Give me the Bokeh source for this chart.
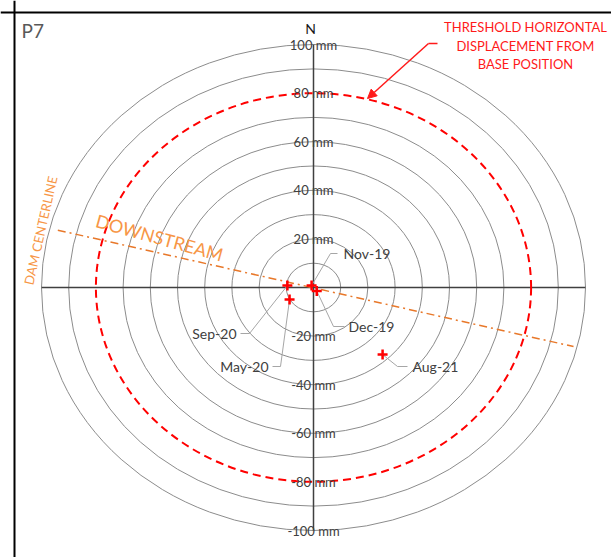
from bokeh.plotting import figure
from bokeh.models import Range1d, Span, Arrow, NormalHead
from bokeh.core.properties import value
from bokeh.embed import file_html
from bokeh.resources import INLINE

# ---------------- data ----------------
ring_radii = [10, 20, 30, 40, 50, 60, 70, 90, 100]   # mm, grey rings
threshold_radius = 80                                  # mm, red dashed ring
ring_label_values = [100, 80, 60, 40, 20, -20, -40, -60, -80, -100]

dates = ["Nov-19", "Dec-19", "Sep-20", "May-20", "Aug-21"]
east_mm = [-0.7, 1.2, -9.6, -8.8, 25.4]
north_mm = [0.8, -1.4, 0.8, -4.9, -27.6]

centerline_x = [-94.0, 95.6]
centerline_y = [23.6, -24.3]

# ---------------- layout ----------------
W, H = 611, 557
SX, SY = 2.72, 2.43          # px per mm
CX, CY = 313, 287            # canvas px of origin

def dx(px):   # screen px -> data x
    return (px - CX) / SX

def dy(py):   # screen py -> data y
    return (CY - py) / SY

p = figure(width=W, height=H, output_backend="svg", toolbar_location=None,
           x_range=Range1d(-CX / SX, (W - CX) / SX),
           y_range=Range1d(-(H - CY) / SY, CY / SY),
           x_axis_location=None, y_axis_location=None,
           min_border=0, min_border_left=0, min_border_right=0,
           min_border_top=0, min_border_bottom=0)
p.grid.visible = False
p.outline_line_color = None
p.background_fill_color = "white"

FONT = value("Lato")
GREY_TXT = "#404040"

# frame lines
p.add_layout(Span(location=dx(14), dimension="height", line_color="black", line_width=2))
p.add_layout(Span(location=dy(12), dimension="width", line_color="black", line_width=2))

# rings
p.ellipse(x=[0] * len(ring_radii), y=[0] * len(ring_radii),
          width=[2 * r for r in ring_radii], height=[2 * r for r in ring_radii],
          fill_color=None, line_color="#8c8c8c", line_width=1)

# axes
p.line(x=[-100, 100], y=[0, 0], line_color="#404040", line_width=1.5)
p.line(x=[0, 0], y=[-100, 100], line_color="#404040", line_width=1.5)

# threshold ring
p.ellipse(x=[0], y=[0], width=[2 * threshold_radius], height=[2 * threshold_radius],
          fill_color=None, line_color="#ff0000", line_width=2, line_dash="8 5")

# dam centerline
p.line(x=centerline_x, y=centerline_y, line_color="#e8782a", line_width=1.5,
       line_dash="8 4 2 4")

# ring labels
p.text(x=[0] * len(ring_label_values), y=ring_label_values,
       text=[f"{v} mm" for v in ring_label_values],
       text_align="center", text_baseline="middle", text_font=FONT,
       text_font_size="13px", text_color=GREY_TXT)

# N
p.text(x=[dx(310)], y=[dy(28)], text=["N"], text_align="center",
       text_baseline="middle", text_font=FONT, text_font_size="14px",
       text_color="#1a1a1a")

# P7
p.text(x=[dx(21)], y=[dy(30)], text=["P7"], text_align="left",
       text_baseline="middle", text_font=FONT, text_font_size="19px",
       text_color="#595959")

# DOWNSTREAM / DAM CENTERLINE
p.text(x=[dx(159)], y=[dy(237)], text=["DOWNSTREAM"], angle=-0.27,
       text_align="center", text_baseline="middle", text_font=FONT,
       text_font_size="18px", text_color="#f79646")
p.text(x=[dx(40)], y=[dy(230)], text=["DAM CENTERLINE"], angle=1.35,
       text_align="center", text_baseline="middle", text_font=FONT,
       text_font_size="13px", text_color="#f79646")

# threshold annotation
p.text(x=[dx(525)] * 3, y=[dy(26), dy(45), dy(63)],
       text=["THRESHOLD HORIZONTAL", "DISPLACEMENT FROM", "BASE POSITION"],
       text_align="center", text_baseline="middle", text_font=FONT,
       text_font_size="13px", text_color="#ff1a1a")
p.line(x=[dx(437), dx(428)], y=[dy(43), dy(43)], line_color="#ff1a1a", line_width=1.5)
p.add_layout(Arrow(end=NormalHead(size=9, fill_color="#ff1a1a", line_color="#ff1a1a"),
                   x_start=dx(428), y_start=dy(43), x_end=dx(367), y_end=dy(98),
                   line_color="#ff1a1a", line_width=1.5))

# leader lines + labels (elbow px, text end px, align)
label_layout = {
    "Nov-19": ((330, 253), (337, 253), (343, 253), "left"),
    "Dec-19": ((333, 326), (344, 326), (348, 326), "left"),
    "Sep-20": ((249, 333), (240, 333), (236, 333), "right"),
    "May-20": ((280, 366), (272, 366), (268, 366), "right"),
    "Aug-21": ((397, 366), (407, 366), (412, 366), "left"),
}
for d, ex, ny in zip(dates, east_mm, north_mm):
    (e1x, e1y), (e2x, e2y), (tx, ty), al = label_layout[d]
    p.line(x=[ex, dx(e1x), dx(e2x)], y=[ny, dy(e1y), dy(e2y)],
           line_color="#a6a6a6", line_width=1)
    p.text(x=[dx(tx)], y=[dy(ty)], text=[d], text_align=al, text_baseline="middle",
           text_font=FONT, text_font_size="14px", text_color=GREY_TXT)

# points
p.scatter(x=east_mm, y=north_mm, marker="cross", size=10, line_width=2.5,
          line_color="#ff0000")

open("out.html", "w").write(file_html(p, INLINE))
